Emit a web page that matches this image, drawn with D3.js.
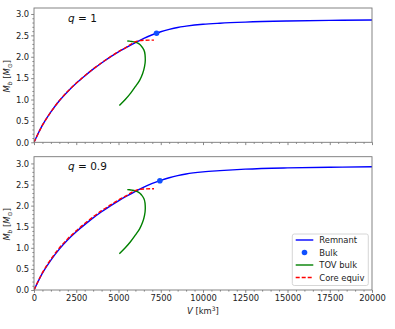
<!DOCTYPE html>
<html>
<head>
<meta charset="utf-8">
<script src="https://cdn.jsdelivr.net/npm/d3@7"></script>
<style>
  body { margin: 0; background: #fff; }
  svg { display: block; font-family: "DejaVu Sans", sans-serif; }
</style>
</head>
<body>
<svg id="chart" width="395" height="329"></svg>
<script>
// ---- data ----
var vGrid = [0, 500, 1000, 1500, 2000, 2500, 3000, 3500, 4000, 4500, 5000, 5500, 6000, 6500, 7000, 7500, 8000, 8500, 9000, 10000, 11000, 12500, 15000, 17500, 20000];
var remnantTop = [0, 0.40, 0.71, 0.97, 1.19, 1.38, 1.55, 1.71, 1.855, 1.99, 2.115, 2.225, 2.33, 2.43, 2.515, 2.585, 2.64, 2.685, 2.715, 2.76, 2.785, 2.81, 2.835, 2.85, 2.86];
var remnantBot = [0, 0.40, 0.71, 0.97, 1.19, 1.38, 1.55, 1.71, 1.855, 1.99, 2.115, 2.23, 2.34, 2.44, 2.53, 2.60, 2.66, 2.71, 2.75, 2.80, 2.83, 2.865, 2.895, 2.91, 2.92];

var coreV = [0, 500, 1000, 1500, 2000, 2500, 3000, 3500, 4000, 4500, 5000, 5500, 5800, 6100, 6500, 7100];
var coreTop = [0, 0.40, 0.71, 0.975, 1.195, 1.385, 1.555, 1.715, 1.86, 1.995, 2.12, 2.23, 2.31, 2.365, 2.385, 2.39];
var coreBot = [0, 0.41, 0.73, 0.995, 1.215, 1.405, 1.575, 1.735, 1.88, 2.01, 2.135, 2.245, 2.32, 2.375, 2.395, 2.40];

var tovV = [5050, 5400, 5720, 5994, 6250, 6430, 6540, 6585, 6570, 6500, 6370, 6220, 6030, 5820, 5650, 5520];
var tovTop = [0.86, 1.0, 1.15, 1.30, 1.45, 1.61, 1.77, 1.92, 2.05, 2.16, 2.24, 2.30, 2.335, 2.355, 2.365, 2.37];
var tovBot = [0.86, 1.0, 1.15, 1.30, 1.45, 1.61, 1.77, 1.93, 2.06, 2.17, 2.25, 2.31, 2.345, 2.365, 2.375, 2.38];

var bulkV = [7250, 7450];
var bulkM = [2.55, 2.59];
var qLabels = ["1", "0.9"];

var xTicks = [0, 2500, 5000, 7500, 10000, 12500, 15000, 17500, 20000];
var yTicks = [0.0, 0.5, 1.0, 1.5, 2.0, 2.5, 3.0];
var legendNames = ["Remnant", "Bulk", "TOV bulk", "Core equiv"];

var svg = d3.select("#chart");
var left = 34, right = 372;
var panels = [
  { top: 8, bottom: 142.3, ymax: 3.14, remnant: remnantTop, core: coreTop, tov: tovTop, bulk: 0 },
  { top: 156.7, bottom: 290, ymax: 3.16, remnant: remnantBot, core: coreBot, tov: tovBot, bulk: 1 }
];

var x = d3.scaleLinear().domain([0, 20000]).range([left, right]);

function zip(xs, ys) { return xs.map(function(v, i) { return [v, ys[i]]; }); }

panels.forEach(function(p, idx) {
  var y = d3.scaleLinear().domain([0, p.ymax]).range([p.bottom, p.top]);
  var g = svg.append("g");

  var lineX = d3.line()
    .x(function(d) { return x(d[0]); })
    .y(function(d) { return y(d[1]); })
    .curve(d3.curveMonotoneX);
  // TOV branch turns back in V, but M keeps rising
  var lineY = d3.line()
    .x(function(d) { return x(d[0]); })
    .y(function(d) { return y(d[1]); })
    .curve(d3.curveMonotoneY);

  var cid = "clip" + idx;
  svg.append("clipPath").attr("id", cid).append("rect")
    .attr("x", left).attr("y", p.top).attr("width", right - left).attr("height", p.bottom - p.top);
  var plot = g.append("g").attr("clip-path", "url(#" + cid + ")");

  plot.append("path").datum(zip(vGrid, p.remnant))
    .attr("d", lineX).attr("fill", "none").attr("stroke", "#0000ff").attr("stroke-width", 1.4);
  plot.append("path").datum(zip(tovV, p.tov))
    .attr("d", lineY).attr("fill", "none").attr("stroke", "#008000").attr("stroke-width", 1.4);
  plot.append("path").datum(zip(coreV, p.core))
    .attr("d", lineX).attr("fill", "none").attr("stroke", "#ff0000").attr("stroke-width", 1.4)
    .attr("stroke-dasharray", "4,2");
  plot.append("circle")
    .attr("cx", x(bulkV[p.bulk])).attr("cy", y(bulkM[p.bulk])).attr("r", 2.8)
    .attr("fill", "#1050ff");

  // axes
  var xAxis = d3.axisBottom(x).tickValues(xTicks).tickSize(2.8).tickPadding(2)
    .tickFormat(idx === 1 ? d3.format("d") : "");
  var gx = g.append("g").attr("transform", "translate(0," + p.bottom + ")").call(xAxis);
  var xMinor = d3.range(0, 20001, 500).filter(function(v) { return v % 2500 !== 0; });
  g.append("g").attr("transform", "translate(0," + p.bottom + ")")
    .call(d3.axisBottom(x).tickValues(xMinor).tickSize(1.6).tickFormat(""))
    .select(".domain").remove();

  var yAxis = d3.axisLeft(y).tickValues(yTicks).tickSize(2.8).tickPadding(2).tickFormat(d3.format(".1f"));
  var gy = g.append("g").attr("transform", "translate(" + left + ",0)").call(yAxis);
  var yMinor = d3.range(0, 31).map(function(v) { return v / 10; }).filter(function(v, i) { return i % 5 !== 0; });
  g.append("g").attr("transform", "translate(" + left + ",0)")
    .call(d3.axisLeft(y).tickValues(yMinor).tickSize(1.6).tickFormat(""))
    .select(".domain").remove();

  [gx, gy].forEach(function(a) {
    a.select(".domain").remove();
    a.selectAll("text").attr("font-size", 8.4).attr("fill", "#222").attr("font-family", "DejaVu Sans");
  });
  g.selectAll(".tick line").attr("stroke", "#555").attr("stroke-width", 0.7);

  // frame
  g.append("rect").attr("x", left).attr("y", p.top)
    .attr("width", right - left).attr("height", p.bottom - p.top)
    .attr("fill", "none").attr("stroke", "#777").attr("stroke-width", 0.9);

  // q label
  var qt = g.append("text").attr("x", 68).attr("y", p.top + 13.6)
    .attr("font-size", 10.5).attr("fill", "#111");
  qt.append("tspan").attr("font-style", "italic").text("q");
  qt.append("tspan").text(" = " + qLabels[idx]);

  // y label
  var cy = (p.top + p.bottom) / 2;
  var yl = g.append("text").attr("transform", "translate(10," + (cy + 1) + ") rotate(-90)")
    .attr("text-anchor", "middle").attr("font-size", 8.4).attr("fill", "#222");
  yl.append("tspan").attr("font-style", "italic").text("M");
  yl.append("tspan").attr("font-size", 6).attr("dy", 1.8).attr("font-style", "italic").text("b");
  yl.append("tspan").attr("dy", -1.8).text(" [");
  yl.append("tspan").attr("font-style", "italic").text("M");
  yl.append("tspan").attr("font-size", 6).attr("dy", 1.8).text("\u2299");
  yl.append("tspan").attr("dy", -1.8).text("]");
});

// x label
var xl = svg.append("text").attr("x", x(10000)).attr("y", 314)
  .attr("text-anchor", "middle").attr("font-size", 8.4).attr("fill", "#222");
xl.append("tspan").attr("font-style", "italic").text("V");
xl.append("tspan").text(" [km");
xl.append("tspan").attr("font-size", 6).attr("dy", -3.2).text("3");
xl.append("tspan").attr("dy", 3.2).text("]");

// legend
var lg = svg.append("g");
lg.append("rect").attr("x", 292.3).attr("y", 234).attr("width", 76).attr("height", 51.5)
  .attr("rx", 2).attr("fill", "#fff").attr("fill-opacity", 0.85).attr("stroke", "#ccc").attr("stroke-width", 0.8);
var rowY = d3.scalePoint().domain(legendNames).range([240, 277.5]);
legendNames.forEach(function(name, i) {
  var yy = rowY(name);
  if (i === 1) {
    lg.append("circle").attr("cx", 304.5).attr("cy", yy).attr("r", 2.8).attr("fill", "#1050ff");
  } else {
    var col = i === 0 ? "#0000ff" : i === 2 ? "#008000" : "#ff0000";
    lg.append("line").attr("x1", 295.7).attr("x2", 313.3).attr("y1", yy).attr("y2", yy)
      .attr("stroke", col).attr("stroke-width", 1.4)
      .attr("stroke-dasharray", i === 3 ? "4,2" : null);
  }
  lg.append("text").attr("x", 319.3).attr("y", yy + 3).attr("font-size", 8.4).attr("fill", "#222").text(name);
});
</script>
</body>
</html>
